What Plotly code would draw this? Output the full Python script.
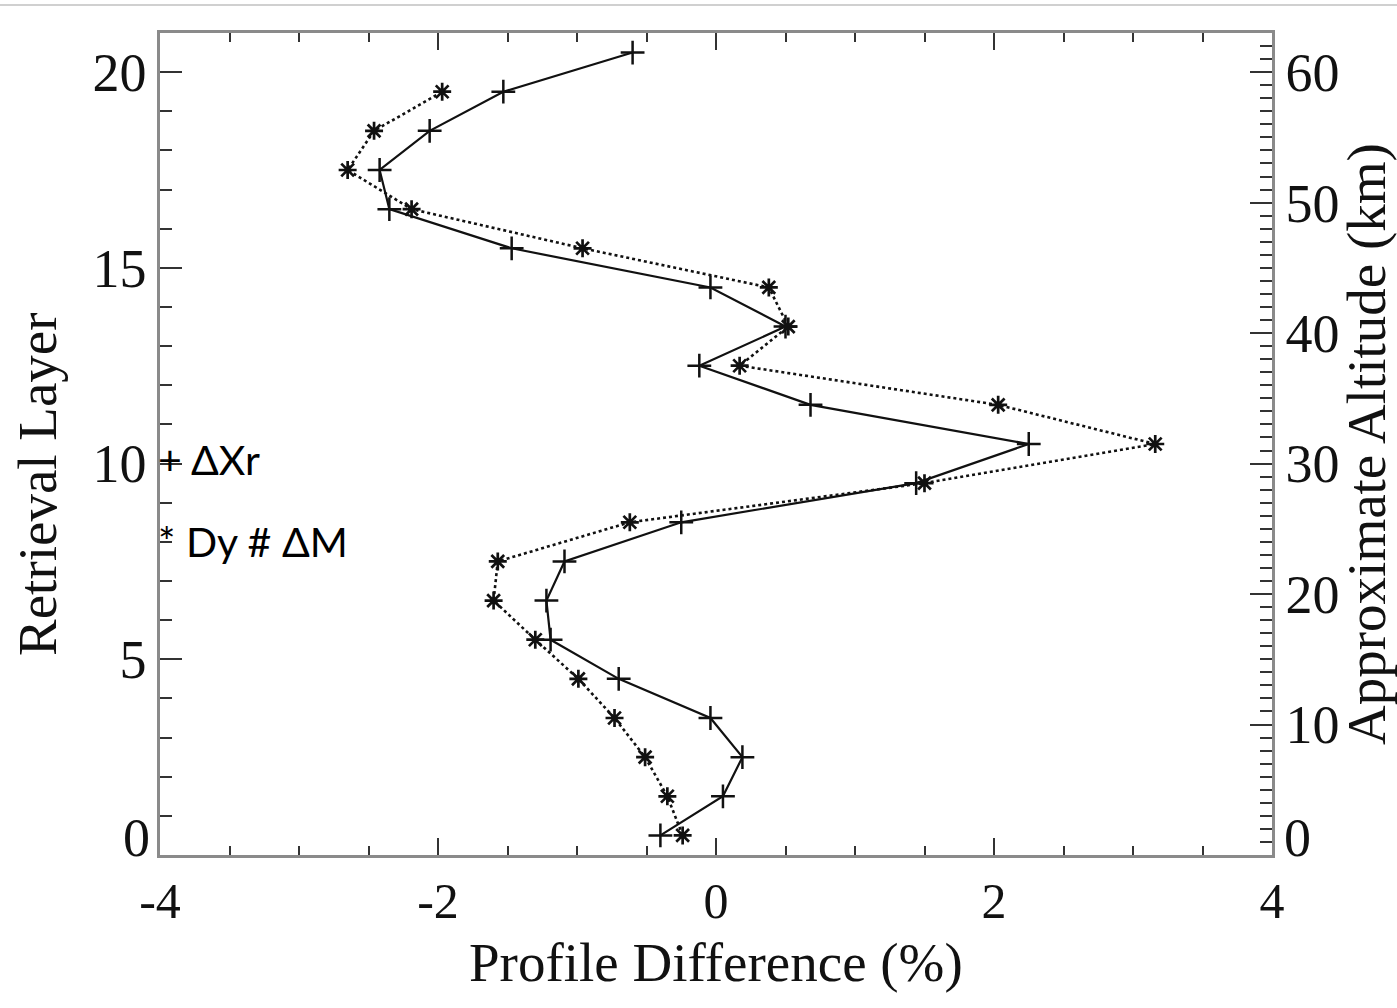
import plotly.graph_objects as go

# Retrieval layers (layer midpoints) and profile differences in percent
layers_xr = [0.5, 1.5, 2.5, 3.5, 4.5, 5.5, 6.5, 7.5, 8.5, 9.5, 10.5,
             11.5, 12.5, 13.5, 14.5, 15.5, 16.5, 17.5, 18.5, 19.5, 20.5]
delta_xr = [-0.40, 0.05, 0.19, -0.04, -0.70, -1.19, -1.22, -1.09, -0.25, 1.44, 2.25,
            0.68, -0.12, 0.50, -0.04, -1.47, -2.35, -2.42, -2.06, -1.53, -0.60]

layers_dm = [0.5, 1.5, 2.5, 3.5, 4.5, 5.5, 6.5, 7.5, 8.5, 9.5, 10.5,
             11.5, 12.5, 13.5, 14.5, 15.5, 16.5, 17.5, 18.5, 19.5]
dy_dm = [-0.24, -0.35, -0.51, -0.73, -0.99, -1.30, -1.60, -1.57, -0.62, 1.50, 3.16,
         2.03, 0.17, 0.52, 0.38, -0.96, -2.19, -2.65, -2.46, -1.97]

x_range = [-4, 4]
x_ticks = [-4, -2, 0, 2, 4]
x_tick_text = ["-4", "-2", "0", "2", "4"]
layer_range = [0, 21]
layer_ticks = [5, 10, 15, 20]
km_per_layer = 3.0
km_ticks = [10, 20, 30, 40, 50, 60]
legend_labels = ["+ ΔXr", "* Dy # ΔM"]
legend_layers = [10.1, 8.0]

serif = "Liberation Serif"
ink = "#111111"
frame = "#8a8a8a"
tick_size = 54
title_size = 55

fig = go.Figure()

fig.add_trace(go.Scatter(
    x=delta_xr, y=layers_xr, mode="lines+markers",
    line=dict(color=ink, width=2.2),
    marker=dict(symbol="cross-thin", size=17, color=ink,
                line=dict(color=ink, width=2.5)),
    showlegend=False, hoverinfo="skip",
))

fig.add_trace(go.Scatter(
    x=dy_dm, y=layers_dm, mode="lines+markers",
    line=dict(color=ink, width=2.6, dash="dot"),
    marker=dict(symbol="asterisk", size=15, color=ink,
                line=dict(color=ink, width=2.7)),
    showlegend=False, hoverinfo="skip",
))

# invisible trace to activate the altitude axis
fig.add_trace(go.Scatter(
    x=[None], y=[None], yaxis="y2", showlegend=False, hoverinfo="skip",
))

tick_font = dict(family=serif, size=tick_size, color=ink)
x_tick_font = dict(family=serif, size=50, color=ink)
title_font = dict(family=serif, size=title_size, color=ink)

fig.update_layout(
    width=1397, height=1008,
    margin=dict(l=160, r=125, t=33, b=153),
    plot_bgcolor="white", paper_bgcolor="white",
    xaxis=dict(
        range=x_range, tickvals=x_ticks, ticktext=x_tick_text,
        ticks="inside", ticklen=17, tickwidth=1.5, tickcolor="#333",
        minor=dict(ticks="inside", ticklen=9, dtick=0.5, tickwidth=1.5, tickcolor="#333"),
        showline=True, linecolor=frame, linewidth=2.5, mirror="ticks",
        showgrid=False, zeroline=False,
        tickfont=x_tick_font,
    ),
    yaxis=dict(
        range=layer_range, tickvals=layer_ticks,
        ticks="inside", ticklen=22, tickwidth=1.5, tickcolor="#333",
        minor=dict(ticks="inside", ticklen=12, tickvals=list(range(0, 22)),
                   tickwidth=1.5, tickcolor="#333"),
        showline=True, linecolor=frame, linewidth=2.5,
        showgrid=False, zeroline=False,
        tickfont=tick_font,
    ),
    yaxis2=dict(
        overlaying="y", side="right",
        range=[layer_range[0] * km_per_layer, layer_range[1] * km_per_layer],
        tickvals=km_ticks,
        ticks="inside", ticklen=22, tickwidth=1.5, tickcolor="#333",
        minor=dict(ticks="inside", ticklen=12, dtick=1, tickwidth=1.5, tickcolor="#333"),
        showline=True, linecolor=frame, linewidth=2.5,
        showgrid=False, zeroline=False,
        tickfont=tick_font,
        title=dict(text="Approximate Altitude (km)", font=title_font, standoff=2),
    ),
)

# bottom axis title
fig.add_annotation(
    text="Profile Difference (%)",
    xref="paper", x=0.5, xanchor="center",
    yref="paper", y=0, yanchor="middle", yshift=-107,
    showarrow=False, font=title_font,
)

# left axis title, set a little below the vertical centre
fig.add_annotation(
    text="Retrieval Layer", textangle=-90,
    xref="paper", x=0, xanchor="center", xshift=-123,
    yref="paper", y=0.5, yanchor="middle", yshift=-40,
    showarrow=False, font=title_font,
)

# zero labels sit on the bottom edge of each vertical axis
fig.add_annotation(
    text="0", xref="paper", x=0, xanchor="right", xshift=-8,
    yref="y", y=layer_range[0], yanchor="bottom", yshift=-15,
    showarrow=False, font=tick_font,
)
fig.add_annotation(
    text="0", xref="paper", x=1, xanchor="left", xshift=10,
    yref="y", y=layer_range[0], yanchor="bottom", yshift=-15,
    showarrow=False, font=tick_font,
)

for label, ly in zip(legend_labels, legend_layers):
    fig.add_annotation(
        text=label, xref="paper", x=0, xanchor="left", xshift=-4,
        yref="y", y=ly, yanchor="middle", showarrow=False,
        font=dict(family="Lato", size=41, color="black"),
    )

# thin rule across the top of the page
fig.add_shape(
    type="line", xref="paper", yref="paper",
    x0=-160 / 1112, x1=1237 / 1112, y0=(855 - 5) / 822, y1=(855 - 5) / 822,
    line=dict(color="#d0d0d0", width=2),
)

fig.write_html("out.html")
